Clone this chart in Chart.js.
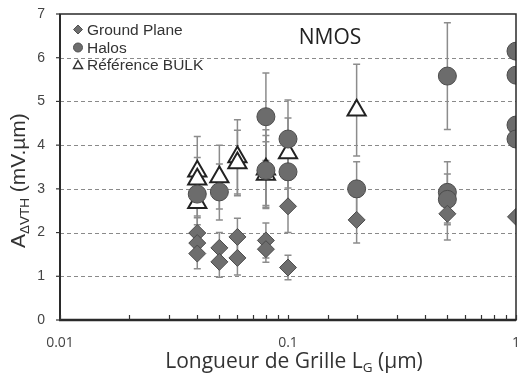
<!DOCTYPE html>
<html>
<head>
<meta charset="utf-8">
<script src="https://cdn.jsdelivr.net/npm/chart.js@4.4.1/dist/chart.umd.min.js"></script>
<style>
  html, body { margin: 0; padding: 0; background: #fff; }
  #wrap { width: 518px; height: 379px; position: relative; }
</style>
</head>
<body>
<div id="wrap"><canvas id="avtChart"></canvas></div>
<script>
// Gate length (um) and A_dVTH (mV.um), with +/- error bars
const gpX = [0.04, 0.04, 0.04, 0.05, 0.05, 0.06, 0.06, 0.08, 0.08, 0.1, 0.1, 0.2, 0.5, 1];
const gpY = [1.99, 1.76, 1.52, 1.65, 1.33, 1.9, 1.42, 1.82, 1.62, 2.6, 1.2, 2.29, 2.43, 2.36];
const gpErr = [0.35, 0.3, 0.35, 0.35, 0.35, 0.43, 0.39, 0.4, 0.3, 0.6, 0.28, 0.53, 0.6, 0];

const haloX = [0.04, 0.05, 0.08, 0.08, 0.1, 0.1, 0.2, 0.5, 0.5, 0.5, 1, 1, 1, 1];
const haloY = [2.88, 2.93, 4.65, 3.42, 4.14, 3.39, 3.0, 5.58, 2.92, 2.76, 6.15, 5.6, 4.46, 4.14];
const haloErr = [0.5, 0.64, 1.0, 0.8, 0.89, 0.7, 0.62, 1.22, 0.7, 0.58, 0, 0, 0, 0];

const bulkX = [0.04, 0.04, 0.04, 0.05, 0.06, 0.06, 0.08, 0.08, 0.1, 0.2];
const bulkY = [3.4, 3.22, 2.68, 3.27, 3.73, 3.59, 3.45, 3.33, 3.82, 4.8];
const bulkErr = [0.8, 0.5, 0.5, 0.73, 0.85, 0.75, 0.9, 0.75, 0.8, 1.05];

const seriesLabels = ['Ground Plane', 'Halos', 'Référence BULK'];
const yTicks = [0, 1, 2, 3, 4, 5, 6, 7];
const xMajor = [0.01, 0.1, 1];

const errs = [gpErr, haloErr, bulkErr];

function pts(xs, ys) {
    return xs.map((x, i) => ({ x: x, y: ys[i] }));
}

function isDecade(v) {
    const l = Math.log10(v);
    return Math.abs(l - Math.round(l)) < 1e-6;
}

// error bars behind the markers
const errorBars = {
    id: 'errorBars',
    beforeDatasetsDraw(chart) {
        const ctx = chart.ctx, xs = chart.scales.x, ys = chart.scales.y;
        const a = chart.chartArea;
        ctx.save();
        ctx.beginPath();
        ctx.rect(a.left, a.top, a.right - a.left, a.bottom - a.top);
        ctx.clip();
        ctx.strokeStyle = '#8c8c8c';
        ctx.lineWidth = 1.5;
        chart.data.datasets.forEach((ds, d) => {
            ds.data.forEach((p, i) => {
                const e = errs[d][i];
                if (!e) return;
                const px = xs.getPixelForValue(p.x);
                const y1 = ys.getPixelForValue(p.y + e);
                const y2 = ys.getPixelForValue(p.y - e);
                ctx.beginPath();
                ctx.moveTo(px, y1); ctx.lineTo(px, y2);
                ctx.moveTo(px - 3.5, y1); ctx.lineTo(px + 3.5, y1);
                ctx.moveTo(px - 3.5, y2); ctx.lineTo(px + 3.5, y2);
                ctx.stroke();
            });
        });
        ctx.restore();
    }
};

// dashed grid, frame, tick marks, legend and texts
const decor = {
    id: 'decor',
    beforeDatasetsDraw(chart) {
        const ctx = chart.ctx, ys = chart.scales.y;
        const a = chart.chartArea;
        ctx.save();
        ctx.strokeStyle = '#8a8a8a';
        ctx.lineWidth = 1;
        ctx.setLineDash([4, 3]);
        yTicks.forEach(v => {
            if (v === 0 || v === 7) return;
            const y = Math.round(ys.getPixelForValue(v)) + 0.5;
            ctx.beginPath();
            ctx.moveTo(a.left, y); ctx.lineTo(a.right, y);
            ctx.stroke();
        });
        ctx.restore();
    },
    afterDraw(chart) {
        const ctx = chart.ctx, xs = chart.scales.x, ys = chart.scales.y;
        const a = chart.chartArea;
        ctx.save();
        // frame
        ctx.strokeStyle = '#2a2a2a';
        ctx.lineWidth = 1.5;
        ctx.strokeRect(a.left, a.top, a.right - a.left, a.bottom - a.top);
        ctx.lineWidth = 2.5;
        ctx.beginPath();
        ctx.moveTo(a.left - 1, a.bottom); ctx.lineTo(a.right, a.bottom);
        ctx.stroke();
        ctx.lineWidth = 2;
        ctx.beginPath();
        ctx.moveTo(a.left, a.top); ctx.lineTo(a.left, a.bottom);
        ctx.stroke();

        // tick marks
        ctx.lineWidth = 1.2;
        ctx.strokeStyle = '#333';
        yTicks.forEach(v => {
            const y = ys.getPixelForValue(v);
            ctx.beginPath();
            ctx.moveTo(a.left - 4, y); ctx.lineTo(a.left, y);
            ctx.stroke();
        });
        xs.ticks.forEach(t => {
            const x = Math.round(xs.getPixelForValue(t.value)) + 0.5;
            ctx.beginPath();
            ctx.moveTo(x, a.bottom); ctx.lineTo(x, a.bottom - 5);
            ctx.stroke();
        });

        // legend
        const lx = 78, rows = [29.5, 47.5, 65];
        ctx.font = '15.5px "Liberation Sans", Arial, sans-serif';
        ctx.textBaseline = 'middle';
        ctx.fillStyle = '#333';
        seriesLabels.forEach((lab, i) => ctx.fillText(lab, 87, rows[i] + 1));
        ctx.fillStyle = '#6e6e6e';
        ctx.strokeStyle = '#505050';
        ctx.lineWidth = 1;
        ctx.beginPath();
        ctx.moveTo(lx, rows[0] - 4.5); ctx.lineTo(lx + 4.5, rows[0]);
        ctx.lineTo(lx, rows[0] + 4.5); ctx.lineTo(lx - 4.5, rows[0]);
        ctx.closePath(); ctx.fill(); ctx.stroke();
        ctx.beginPath();
        ctx.arc(lx, rows[1], 4.5, 0, Math.PI * 2);
        ctx.fill(); ctx.stroke();
        ctx.fillStyle = '#fff';
        ctx.strokeStyle = '#333';
        ctx.lineWidth = 1.5;
        ctx.beginPath();
        ctx.moveTo(lx, rows[2] - 4.5); ctx.lineTo(lx + 4.5, rows[2] + 3.5);
        ctx.lineTo(lx - 4.5, rows[2] + 3.5);
        ctx.closePath(); ctx.fill(); ctx.stroke();

        // NMOS label
        ctx.fillStyle = '#222';
        ctx.font = '21px "Open Sans", sans-serif';
        ctx.textBaseline = 'alphabetic';
        ctx.textAlign = 'center';
        ctx.fillText('NMOS', 330, 44);

        // x title with subscript
        const xMain = 'Longueur de Grille L', xSub = 'G', xEnd = ' (µm)';
        ctx.textAlign = 'left';
        ctx.fillStyle = '#333';
        const fMain = '21px "Open Sans", sans-serif', fSub = '13.5px "Open Sans", sans-serif';
        ctx.font = fMain;
        const w1 = ctx.measureText(xMain).width, w3 = ctx.measureText(xEnd).width;
        ctx.font = fSub;
        const w2 = ctx.measureText(xSub).width;
        let x0 = 294 - (w1 + w2 + w3) / 2;
        ctx.font = fMain; ctx.fillText(xMain, x0, 368);
        ctx.font = fSub; ctx.fillText(xSub, x0 + w1, 372);
        ctx.font = fMain; ctx.fillText(xEnd, x0 + w1 + w2, 368);

        // y title with subscript, rotated
        ctx.save();
        ctx.translate(25, 248);
        ctx.rotate(-Math.PI / 2);
        const yMain = 'A', ySub = 'ΔVTH', yEnd = ' (mV.µm)';
        const gMain = '21px "Liberation Sans", Arial, sans-serif', gSub = '13.5px "Liberation Sans", Arial, sans-serif';
        ctx.font = gMain;
        const v1 = ctx.measureText(yMain).width;
        ctx.font = gSub;
        const v2 = ctx.measureText(ySub).width;
        ctx.font = gMain; ctx.fillText(yMain, 0, 0);
        ctx.font = gSub; ctx.fillText(ySub, v1, 4);
        ctx.font = gMain; ctx.fillText(yEnd, v1 + v2, 0);
        ctx.restore();

        ctx.restore();
    }
};

new Chart(document.getElementById('avtChart'), {
    type: 'scatter',
    data: {
        datasets: [
            {
                label: seriesLabels[0],
                data: pts(gpX, gpY),
                pointStyle: 'rectRot',
                pointRadius: 8.5,
                backgroundColor: '#6e6e6e',
                borderColor: '#4c4c4c',
                borderWidth: 1
            },
            {
                label: seriesLabels[1],
                data: pts(haloX, haloY),
                pointStyle: 'circle',
                pointRadius: 9,
                backgroundColor: '#6c6c6c',
                borderColor: '#4c4c4c',
                borderWidth: 1
            },
            {
                label: seriesLabels[2],
                data: pts(bulkX, bulkY),
                pointStyle: 'triangle',
                pointRadius: 10.5,
                backgroundColor: '#ffffff',
                borderColor: '#222222',
                borderWidth: 2
            }
        ]
    },
    options: {
        responsive: true,
        maintainAspectRatio: false,
        animation: false,
        layout: { autoPadding: false, padding: { top: 14, right: 2, left: 0, bottom: 0 } },
        plugins: {
            legend: { display: false },
            tooltip: { enabled: false }
        },
        scales: {
            x: {
                type: 'logarithmic',
                min: 0.01,
                max: 1,
                grid: { display: false, drawTicks: false },
                border: { display: false },
                ticks: {
                    autoSkip: false,
                    maxRotation: 0,
                    padding: 15,
                    color: '#444',
                    font: { family: '"Open Sans", sans-serif', size: 14 },
                    callback: v => isDecade(v) && xMajor.some(m => Math.abs(m - v) < 1e-9) ? String(v) : ''
                },
                afterFit(s) {
                    s.height = 59;
                    s.paddingLeft = 0;
                    s.paddingRight = 0;
                }
            },
            y: {
                min: 0,
                max: 7,
                grid: { display: false, drawTicks: false },
                border: { display: false },
                ticks: {
                    stepSize: 1,
                    padding: 15,
                    color: '#444',
                    font: { family: '"Liberation Sans", Arial, sans-serif', size: 14 }
                },
                afterFit(s) {
                    s.width = 60;
                    s.paddingTop = 0;
                    s.paddingBottom = 0;
                }
            }
        }
    },
    plugins: [decor, errorBars]
});
</script>
</body>
</html>
